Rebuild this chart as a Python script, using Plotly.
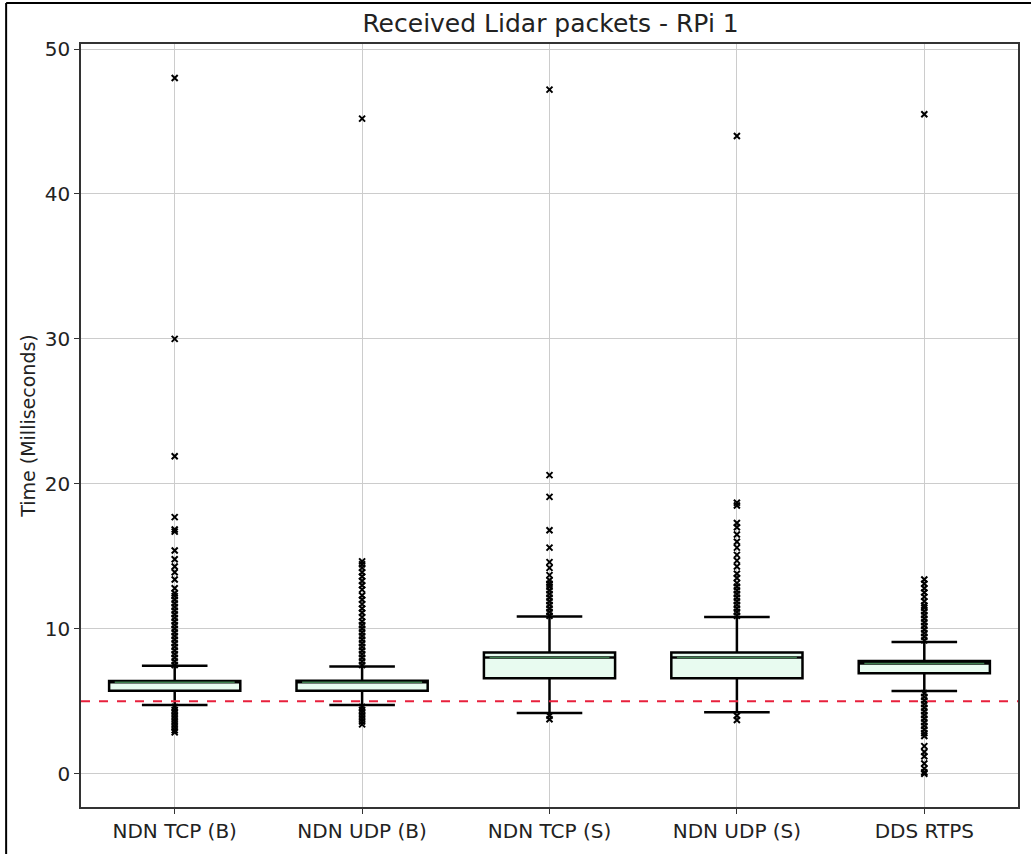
import plotly.graph_objects as go

categories = ["NDN TCP (B)", "NDN UDP (B)", "NDN TCP (S)", "NDN UDP (S)", "DDS RTPS"]
q1 = [5.72, 5.72, 6.58, 6.58, 6.93]
median = [6.30, 6.30, 8.02, 8.02, 7.60]
q3 = [6.40, 6.42, 8.36, 8.36, 7.78]
lowerfence = [4.73, 4.73, 4.18, 4.23, 5.70]
upperfence = [7.44, 7.40, 10.84, 10.81, 9.09]

outliers_tcp_b = [7.5, 7.75, 8.0, 8.25, 8.5, 8.75, 9.0, 9.25, 9.5, 9.75, 10.0, 10.25, 10.5,
                  10.75, 11.0, 11.25, 11.5, 11.75, 12.0, 12.25, 12.45, 12.8, 13.4, 13.9, 14.3,
                  14.8, 15.4, 16.7, 16.85, 17.7, 21.9, 30.0, 48.0,
                  4.6, 4.4, 4.2, 4.0, 3.8, 3.6, 3.4, 3.2, 3.0, 2.85]
outliers_udp_b = [7.5, 7.75, 8.0, 8.25, 8.5, 8.75, 9.0, 9.25, 9.5, 9.75, 10.0, 10.25, 10.5,
                  10.8, 11.1, 11.4, 11.7, 12.0, 12.3, 12.7, 13.0, 13.3, 13.6, 13.9, 14.2,
                  14.45, 14.65, 45.2,
                  4.6, 4.4, 4.2, 4.0, 3.8, 3.6, 3.4]
outliers_tcp_s = [10.9, 11.15, 11.4, 11.65, 11.9, 12.15, 12.4, 12.65, 12.9, 13.1, 13.35,
                  13.7, 14.2, 14.6, 15.6, 16.8, 19.1, 20.6, 47.2,
                  4.0, 3.75]
outliers_udp_s = [10.9, 11.15, 11.4, 11.65, 11.9, 12.15, 12.4, 12.65, 12.9, 13.15, 13.5,
                  13.8, 14.3, 14.7, 15.1, 15.6, 16.0, 16.5, 17.0, 17.3, 18.5, 18.7, 44.0,
                  4.0, 3.7]
outliers_dds = [9.2, 9.45, 9.7, 9.95, 10.2, 10.45, 10.7, 10.95, 11.2, 11.45, 11.6, 11.9,
                12.2, 12.5, 12.8, 13.1, 13.4, 45.5,
                5.55, 5.3, 5.05, 4.8, 4.55, 4.3, 4.05, 3.8, 3.55, 3.3, 3.05, 2.8, 2.6,
                1.9, 1.5, 1.2, 0.7, 0.35, 0.1, 0.0]
outliers = [outliers_tcp_b, outliers_udp_b, outliers_tcp_s, outliers_udp_s, outliers_dds]

red_line_value = 5

fig = go.Figure()

fig.add_trace(go.Box(
    x=categories, q1=q1, median=median, q3=q3,
    lowerfence=lowerfence, upperfence=upperfence,
    boxpoints=False, width=0.7, whiskerwidth=0.5,
    fillcolor="#e8fbf0", line=dict(color="black", width=2.5),
    showlegend=False, hoverinfo="skip",
))
# median line drawn as a flat box in green
fig.add_trace(go.Box(
    x=categories, q1=median, median=median, q3=median,
    lowerfence=median, upperfence=median,
    boxpoints=False, width=0.64, whiskerwidth=0,
    fillcolor="rgba(0,0,0,0)", line=dict(color="#3f7f4f", width=1.5),
    showlegend=False, hoverinfo="skip",
))

ox, oy = [], []
for cat, vals in zip(categories, outliers):
    for v in vals:
        ox.append(cat)
        oy.append(v)
fig.add_trace(go.Scatter(
    x=ox, y=oy, mode="markers",
    marker=dict(symbol="x-thin", size=6, line=dict(width=2, color="black"), color="black"),
    showlegend=False, hoverinfo="skip",
))

fig.add_shape(type="line", xref="paper", yref="y", x0=0, x1=1,
              y0=red_line_value, y1=red_line_value,
              line=dict(color="#e8203c", width=2, dash="dash"))

# outer figure border (top and left)
fig.add_shape(type="line", xref="paper", yref="paper", x0=-0.0799, x1=1.02,
              y0=1.0537, y1=1.0537, line=dict(color="black", width=2))
fig.add_shape(type="line", xref="paper", yref="paper", x0=-0.0799, x1=-0.0799,
              y0=-0.07, y1=1.0537, line=dict(color="black", width=2))

fig.update_layout(
    width=1031, height=854,
    margin=dict(l=81, r=11, t=44, b=46),
    paper_bgcolor="white", plot_bgcolor="white",
    boxmode="overlay",
    font=dict(family="DejaVu Sans", size=19, color="#222222"),
    title=dict(text="Received Lidar packets - RPi 1", x=0.534, xanchor="center",
               y=0.973, yanchor="middle", font=dict(size=25, color="#222222")),
)
fig.update_xaxes(
    type="category", categoryorder="array", categoryarray=categories,
    range=[-0.5, 4.5],
    showgrid=True, gridcolor="#cccccc", gridwidth=1,
    showline=True, linecolor="#333333", linewidth=1.5, mirror=True,
    ticks="outside", ticklen=5, tickcolor="#333333",
    tickfont=dict(size=20),
)
fig.update_yaxes(
    range=[-2.3, 50.35],
    tickvals=[0, 10, 20, 30, 40, 50],
    showgrid=True, gridcolor="#cccccc", gridwidth=1,
    showline=True, linecolor="#333333", linewidth=1.5, mirror=True,
    ticks="outside", ticklen=5, tickcolor="#333333",
    zeroline=False,
    tickfont=dict(size=20),
    title=dict(text="Time (Milliseconds)", font=dict(size=19), standoff=4),
)

fig.write_html("out.html")
